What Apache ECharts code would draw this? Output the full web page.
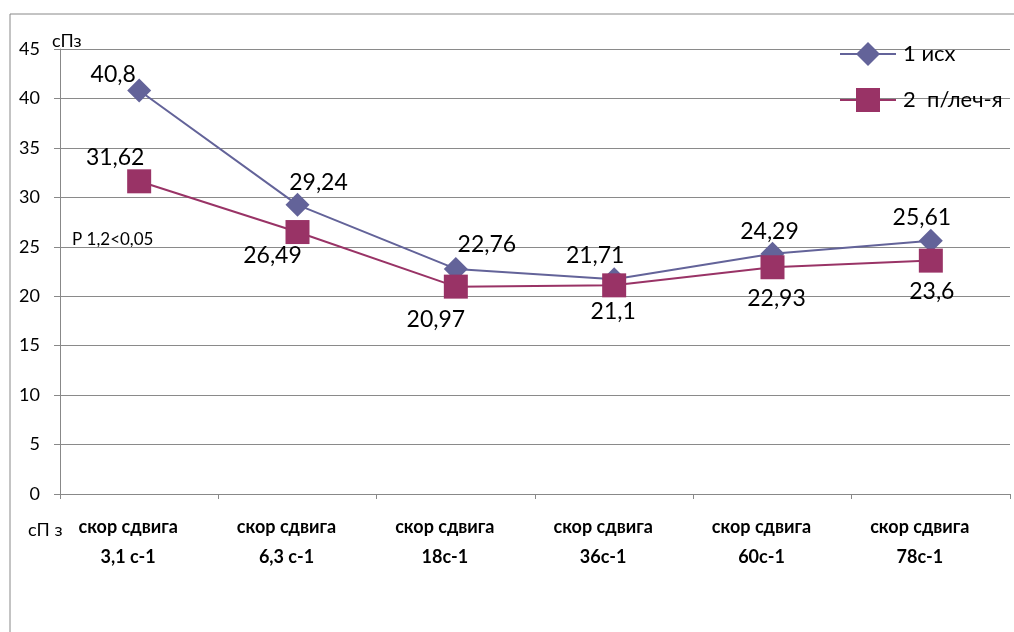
<!DOCTYPE html>
<html>
<head>
<meta charset="utf-8">
<script src="https://cdn.jsdelivr.net/npm/echarts@6/dist/echarts.min.js"></script>
<style>
html, body { margin: 0; padding: 0; background: #fff; }
#main { width: 1014px; height: 632px; }
</style>
</head>
<body>
<div id="main"></div>
<script>
// categories and values
var categories = ["скор сдвига\n3,1 с-1", "скор сдвига\n6,3 с-1", "скор сдвига\n18с-1",
	"скор сдвига\n36с-1", "скор сдвига\n60с-1", "скор сдвига\n78с-1"];
var seriesNames = ["1 исх", "2  п/леч-я"];
var seriesIsh = [40.8, 29.24, 22.76, 21.71, 24.29, 25.61];
var seriesPosle = [31.62, 26.49, 20.97, 21.1, 22.93, 23.6];
var yTicks = [0, 5, 10, 15, 20, 25, 30, 35, 40, 45];

// where each value label sits relative to its marker
var offIsh = [[-26, -16], [21, -22], [31, -24], [-19, -24], [-3, -22], [-9, -23]];
var offPosle = [[-24, -24], [-25, 24], [-20, 33], [-1, 26], [4, 31], [1, 31]];

var FONT = "Lato, 'Open Sans', sans-serif";

function fmt(v) {
	return String(v).replace(".", ",");
}

function withLabels(values, offsets) {
	return values.map(function(v, i) {
		return {
			value: v,
			label: { offset: offsets[i] }
		};
	});
}

var baseLabel = {
	show: true,
	position: "inside",
	color: "#000",
	fontSize: 23,
	fontFamily: FONT,
	formatter: function(p) { return fmt(p.value); }
};

var chart = echarts.init(document.getElementById("main"));
chart.setOption({
	animation: false,
	grid: { left: 60, top: 49, right: 4, bottom: 138 },
	legend: {
		left: 834,
		top: 37,
		orient: "vertical",
		itemGap: 22,
		itemWidth: 56,
		itemHeight: 30,
		textStyle: { fontSize: 22, fontFamily: FONT, color: "#000", padding: [0, 0, 0, 2] },
		data: seriesNames
	},
	xAxis: {
		type: "category",
		data: categories,
		boundaryGap: true,
		axisLine: { lineStyle: { color: "#888", width: 1 } },
		axisTick: { show: true, length: 5, lineStyle: { color: "#888" } },
		axisLabel: {
			interval: 0,
			margin: 18,
			fontSize: 18,
			fontWeight: "bold",
			lineHeight: 30,
			padding: [0, 22, 0, 0],
			color: "#000",
			fontFamily: FONT
		}
	},
	yAxis: {
		type: "value",
		min: yTicks[0],
		max: yTicks[yTicks.length - 1],
		interval: 5,
		axisLine: { show: true, lineStyle: { color: "#888", width: 1 } },
		axisTick: { show: true, length: 6, lineStyle: { color: "#888" } },
		splitLine: { lineStyle: { color: "#8a8a8a", width: 1 } },
		axisLabel: { fontSize: 18, color: "#000", margin: 20, fontFamily: FONT }
	},
	graphic: [
		{ type: "line", shape: { x1: 10, y1: 14, x2: 1014, y2: 14 }, style: { stroke: "#888", lineWidth: 1 } },
		{ type: "line", shape: { x1: 10, y1: 14, x2: 10, y2: 632 }, style: { stroke: "#888", lineWidth: 1 } },
		{ type: "text", left: 52, top: 32, style: { text: "сПз", fontSize: 18, fontFamily: FONT, fill: "#000" } },
		{ type: "text", left: 28, top: 521, style: { text: "сП з", fontSize: 18, fontFamily: FONT, fill: "#000" } },
		{ type: "text", left: 72, top: 231, style: { text: "P 1,2<0,05", fontSize: 17, fontFamily: FONT, fill: "#000" } }
	],
	series: [
		{
			name: seriesNames[0],
			type: "line",
			symbol: "diamond",
			symbolSize: 24,
			z: 3,
			itemStyle: { color: "#636399" },
			lineStyle: { color: "#636399", width: 2 },
			label: baseLabel,
			data: withLabels(seriesIsh, offIsh)
		},
		{
			name: seriesNames[1],
			type: "line",
			symbol: "rect",
			symbolSize: 24,
			z: 4,
			itemStyle: { color: "#993366" },
			lineStyle: { color: "#993366", width: 2 },
			label: baseLabel,
			data: withLabels(seriesPosle, offPosle)
		}
	]
});
</script>
</body>
</html>
